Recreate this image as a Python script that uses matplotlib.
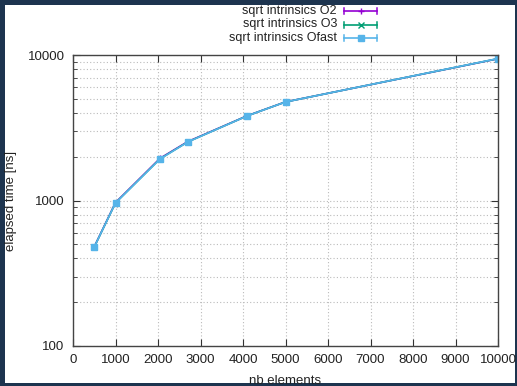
import matplotlib.pyplot as plt
from matplotlib.patches import Rectangle
from matplotlib.lines import Line2D
from matplotlib.ticker import FixedLocator, NullFormatter

plt.rcParams['font.family'] = ['Liberation Sans', 'DejaVu Sans']

# sqrt benchmark timings (ns) per array size
nb_elements = [500, 1000, 2048, 2700, 4096, 5000, 10000]
o2_times = [481, 968, 1950, 2540, 3820, 4760, 9420]
o3_times = [479, 963, 1935, 2528, 3815, 4757, 9440]
ofast_times = [479, 962, 1928, 2523, 3811, 4755, 9450]

labels = ['sqrt intrinsics O2', 'sqrt intrinsics O3', 'sqrt intrinsics Ofast']
colors = ['#9400d3', '#009e73', '#56b4e9']
markers = ['+', 'x', 's']
series = [o2_times, o3_times, ofast_times]

W, H = 517, 386
fig = plt.figure(figsize=(W / 100, H / 100), dpi=100, facecolor='#1d344f')
fig.patches.append(Rectangle((5 / W, 3 / H), 510 / W, 378 / H,
                             transform=fig.transFigure, facecolor='white',
                             edgecolor='none', zorder=-5))

ax = fig.add_axes([73 / W, 40 / H, 425 / W, 291 / H])
ax.set_zorder(2)
ax.patch.set_alpha(0)
for y, lab, c, m in zip(series, labels, colors, markers):
    ax.plot(nb_elements, y, color=c, marker=m, markersize=3.8, lw=1.2,
            label=lab, markeredgewidth=1.0)

ax.set_yscale('log')
ax.set_xlim(0, 10000)
ax.set_ylim(100, 10000)
ax.xaxis.set_major_locator(FixedLocator(range(0, 10001, 1000)))
ax.yaxis.set_major_locator(FixedLocator([100, 1000, 10000]))
ax.set_yticklabels(['100', '1000', '10000'])
ax.yaxis.set_minor_formatter(NullFormatter())

ax.tick_params(which='both', direction='in', top=True, right=True,
               colors='#333333', labelsize=9.5, labelcolor='#222222')
ax.tick_params(which='major', length=5, pad=6)
ax.tick_params(which='minor', length=3)
ax.grid(True, which='major', color='#bbbbbb', linestyle=(0, (1, 2)), lw=0.8)
ax.grid(True, which='minor', axis='y', color='#bbbbbb', linestyle=(0, (1, 2)), lw=0.8)
for s in ax.spines.values():
    s.set_color('#444444')
    s.set_linewidth(1)

ax.set_xlabel('nb elements', fontsize=9.5, color='#222222', labelpad=6)
ax.set_ylabel('elapsed time [ns]', fontsize=9.5, color='#222222', labelpad=8)

# gnuplot-style key above the plot
for i, (lab, c, m) in enumerate(zip(labels, colors, markers)):
    yk = 1 - (11 + i * 13.5) / H
    fig.text(337 / W, yk, lab, ha='right', va='center', fontsize=9, color='#222222')
    x0, x1 = 344 / W, 377 / W
    fig.add_artist(Line2D([x0, x1], [yk, yk], color=c, lw=1.2, transform=fig.transFigure))
    for xc in (x0, x1):
        fig.add_artist(Line2D([xc, xc], [yk - 3 / H, yk + 3 / H], color=c, lw=1.1,
                              transform=fig.transFigure))
    fig.add_artist(Line2D([(x0 + x1) / 2], [yk], color=c, marker=m, markersize=3.8,
                          markeredgewidth=1.0, transform=fig.transFigure))

fig.savefig('out.png', dpi=100, facecolor=fig.get_facecolor())
